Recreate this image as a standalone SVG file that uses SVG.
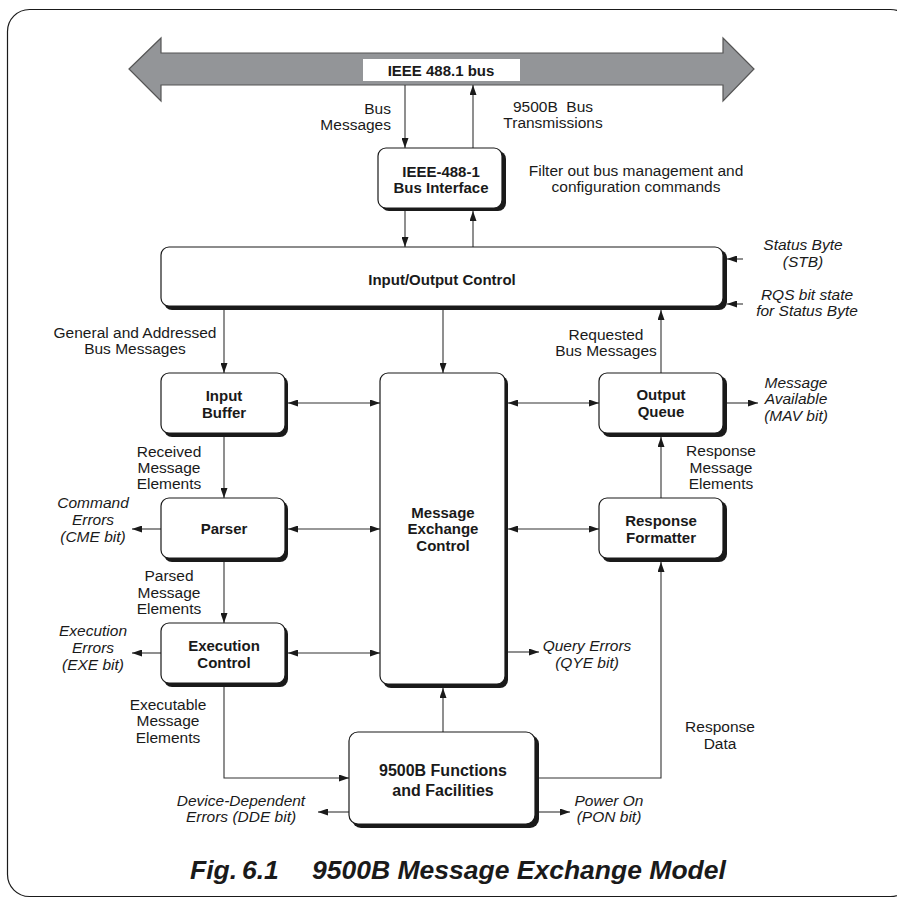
<svg xmlns="http://www.w3.org/2000/svg" width="897" height="899" viewBox="0 0 897 899">
<style>
text{font-family:"Liberation Sans",Arial,sans-serif;fill:#1a1a1a}
.b{font-weight:bold;font-size:15px}
.r{font-size:15.5px}
.i{font-size:15.5px;font-style:italic}
.box{fill:#fff;stroke:#1a1a1a;stroke-width:1.2}
.sh{fill:#1a1a1a}
.c{fill:none;stroke:#333;stroke-width:1.1}
</style>
<defs>
<marker id="ah" viewBox="0 0 10 7" refX="10" refY="3.5" markerWidth="10" markerHeight="7" orient="auto-start-reverse" markerUnits="userSpaceOnUse">
<path d="M0,0 L10,3.5 L0,7 z" fill="#1a1a1a"/>
</marker>
</defs>
<rect x="7.5" y="9.5" width="905" height="887" rx="22" fill="#fff" stroke="#1a1a1a" stroke-width="1.2"/>

<g id="bus">
<path d="M129,69 L161,38 L161,53 L723,53 L723,38 L754,69 L723,101 L723,85 L161,85 L161,101 Z" fill="#939598" stroke="#555" stroke-width="1.2"/>
<rect x="363" y="59" width="157" height="22" fill="#fff"/>
<text class="b" x="441" y="76" text-anchor="middle">IEEE 488.1 bus</text>
</g>

<g id="connectors">
<path class="c" d="M405,85 V148" marker-end="url(#ah)"/>
<path class="c" d="M473,148 V85" marker-end="url(#ah)"/>
<path class="c" d="M405,211 V247" marker-end="url(#ah)"/>
<path class="c" d="M473,247 V211" marker-end="url(#ah)"/>
<path class="c" d="M743,259 H727" marker-end="url(#ah)"/>
<path class="c" d="M743,304 H727" marker-end="url(#ah)"/>
<path class="c" d="M224,310 V373" marker-end="url(#ah)"/>
<path class="c" d="M443,310 V373" marker-end="url(#ah)"/>
<path class="c" d="M661,373 V310" marker-end="url(#ah)"/>
<path class="c" d="M288,403 H380" marker-start="url(#ah)" marker-end="url(#ah)"/>
<path class="c" d="M508,403 H599" marker-start="url(#ah)" marker-end="url(#ah)"/>
<path class="c" d="M727,403 H758" marker-end="url(#ah)"/>
<path class="c" d="M224,437 V498" marker-end="url(#ah)"/>
<path class="c" d="M661,498 V437" marker-end="url(#ah)"/>
<path class="c" d="M161,529 H132" marker-end="url(#ah)"/>
<path class="c" d="M288,529 H380" marker-start="url(#ah)" marker-end="url(#ah)"/>
<path class="c" d="M508,529 H599" marker-start="url(#ah)" marker-end="url(#ah)"/>
<path class="c" d="M224,562 V623" marker-end="url(#ah)"/>
<path class="c" d="M161,653 H132" marker-end="url(#ah)"/>
<path class="c" d="M288,653 H380" marker-start="url(#ah)" marker-end="url(#ah)"/>
<path class="c" d="M508,652 H539" marker-end="url(#ah)"/>
<path class="c" d="M224,687 V778 H349" marker-end="url(#ah)"/>
<path class="c" d="M443,732 V688" marker-end="url(#ah)"/>
<path class="c" d="M539,778 H661 V562" marker-end="url(#ah)"/>
<path class="c" d="M349,812 H318" marker-end="url(#ah)"/>
<path class="c" d="M539,812 H570" marker-end="url(#ah)"/>
</g>

<g id="ieee">
<rect class="sh" x="381" y="151" width="125" height="60" rx="8"/>
<rect class="box" x="378" y="148" width="124" height="60" rx="8"/>
<text class="b" x="441" y="177" text-anchor="middle">IEEE-488-1</text>
<text class="b" x="441" y="193" text-anchor="middle">Bus Interface</text>
</g>

<g id="ioc">
<rect class="sh" x="164" y="250" width="563" height="60" rx="8"/>
<rect class="box" x="161" y="247" width="562" height="59" rx="8"/>
<text class="b" x="442" y="285" text-anchor="middle">Input/Output Control</text>
</g>

<g id="inbuf">
<rect class="sh" x="164" y="376" width="124" height="61" rx="8"/>
<rect class="box" x="161" y="373" width="124" height="60" rx="8"/>
<text class="b" x="224" y="401" text-anchor="middle">Input</text>
<text class="b" x="224" y="418" text-anchor="middle">Buffer</text>
</g>

<g id="parser">
<rect class="sh" x="164" y="501" width="124" height="61" rx="8"/>
<rect class="box" x="161" y="498" width="124" height="60" rx="8"/>
<text class="b" x="224" y="534" text-anchor="middle">Parser</text>
</g>

<g id="exec">
<rect class="sh" x="164" y="626" width="124" height="61" rx="8"/>
<rect class="box" x="161" y="623" width="124" height="60" rx="8"/>
<text class="b" x="224" y="651" text-anchor="middle">Execution</text>
<text class="b" x="224" y="668" text-anchor="middle">Control</text>
</g>

<g id="mec">
<rect class="sh" x="383" y="376" width="125" height="312" rx="8"/>
<rect class="box" x="380" y="373" width="125" height="311" rx="8"/>
<text class="b" x="443" y="518" text-anchor="middle">Message</text>
<text class="b" x="443" y="534" text-anchor="middle">Exchange</text>
<text class="b" x="443" y="551" text-anchor="middle">Control</text>
</g>

<g id="oq">
<rect class="sh" x="602" y="376" width="125" height="61" rx="8"/>
<rect class="box" x="599" y="373" width="124" height="60" rx="8"/>
<text class="b" x="661" y="400" text-anchor="middle">Output</text>
<text class="b" x="661" y="417" text-anchor="middle">Queue</text>
</g>

<g id="rf">
<rect class="sh" x="602" y="501" width="125" height="61" rx="8"/>
<rect class="box" x="599" y="498" width="124" height="60" rx="8"/>
<text class="b" x="661" y="526" text-anchor="middle">Response</text>
<text class="b" x="661" y="543" text-anchor="middle">Formatter</text>
</g>

<g id="func">
<rect class="sh" x="352" y="735" width="187" height="93" rx="9"/>
<rect class="box" x="349" y="732" width="186" height="92" rx="9"/>
<text class="b" x="443" y="776" text-anchor="middle" style="font-size:16px">9500B Functions</text>
<text class="b" x="443" y="796" text-anchor="middle" style="font-size:16px">and Facilities</text>
</g>

<g id="labels">
<text class="r" x="391" y="114" text-anchor="end">Bus</text>
<text class="r" x="391" y="130" text-anchor="end">Messages</text>
<text class="r" x="553" y="112" text-anchor="middle">9500B&#160; Bus</text>
<text class="r" x="553" y="128" text-anchor="middle">Transmissions</text>
<text class="r" x="636" y="176" text-anchor="middle">Filter out bus management and</text>
<text class="r" x="636" y="192" text-anchor="middle">configuration commands</text>
<text class="i" x="803" y="250" text-anchor="middle">Status Byte</text>
<text class="i" x="803" y="267" text-anchor="middle">(STB)</text>
<text class="i" x="807" y="300" text-anchor="middle">RQS bit state</text>
<text class="i" x="807" y="316" text-anchor="middle">for Status Byte</text>
<text class="r" x="135" y="338" text-anchor="middle">General and Addressed</text>
<text class="r" x="135" y="354" text-anchor="middle">Bus Messages</text>
<text class="r" x="606" y="340" text-anchor="middle">Requested</text>
<text class="r" x="606" y="356" text-anchor="middle">Bus Messages</text>
<text class="i" x="796" y="388" text-anchor="middle">Message</text>
<text class="i" x="796" y="404" text-anchor="middle">Available</text>
<text class="i" x="796" y="421" text-anchor="middle">(MAV bit)</text>
<text class="r" x="169" y="457" text-anchor="middle">Received</text>
<text class="r" x="169" y="473" text-anchor="middle">Message</text>
<text class="r" x="169" y="489" text-anchor="middle">Elements</text>
<text class="r" x="721" y="456" text-anchor="middle">Response</text>
<text class="r" x="721" y="473" text-anchor="middle">Message</text>
<text class="r" x="721" y="489" text-anchor="middle">Elements</text>
<text class="i" x="93" y="508" text-anchor="middle">Command</text>
<text class="i" x="93" y="525" text-anchor="middle">Errors</text>
<text class="i" x="93" y="542" text-anchor="middle">(CME bit)</text>
<text class="r" x="169" y="581" text-anchor="middle">Parsed</text>
<text class="r" x="169" y="598" text-anchor="middle">Message</text>
<text class="r" x="169" y="614" text-anchor="middle">Elements</text>
<text class="i" x="93" y="636" text-anchor="middle">Execution</text>
<text class="i" x="93" y="653" text-anchor="middle">Errors</text>
<text class="i" x="93" y="670" text-anchor="middle">(EXE bit)</text>
<text class="i" x="587" y="651" text-anchor="middle">Query Errors</text>
<text class="i" x="587" y="668" text-anchor="middle">(QYE bit)</text>
<text class="r" x="168" y="710" text-anchor="middle">Executable</text>
<text class="r" x="168" y="726" text-anchor="middle">Message</text>
<text class="r" x="168" y="743" text-anchor="middle">Elements</text>
<text class="r" x="720" y="732" text-anchor="middle">Response</text>
<text class="r" x="720" y="749" text-anchor="middle">Data</text>
<text class="i" x="241" y="806" text-anchor="middle">Device-Dependent</text>
<text class="i" x="241" y="822" text-anchor="middle">Errors (DDE bit)</text>
<text class="i" x="609" y="806" text-anchor="middle">Power On</text>
<text class="i" x="609" y="822" text-anchor="middle">(PON bit)</text>
</g>

<g id="title" style="font-weight:bold;font-style:italic;font-size:26.5px">
<text x="190" y="879">Fig.</text>
<text x="242" y="879">6.1</text>
<text x="312" y="879">9500B Message Exchange Model</text>
</g>
</svg>
